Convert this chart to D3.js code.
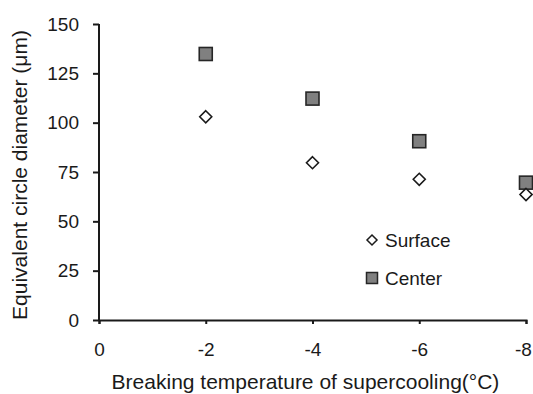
<!DOCTYPE html>
<html lang="en">
<head>
<meta charset="UTF-8">
<title>Equivalent circle diameter</title>
<script src="https://d3js.org/d3.v7.min.js"></script>
<style>
  body { margin: 0; background: #fff; }
  text { font-family: "Liberation Sans", Arial, sans-serif; fill: #1a1a1a; }
</style>
</head>
<body>
<div id="chart"></div>
<script>
// data
var temps = [-2, -4, -6, -8];
var surface = [103, 79.7, 71.3, 63.6];
var center = [134.8, 112.2, 90.6, 69.6];
var xTicks = [0, -2, -4, -6, -8];
var yTicks = [0, 25, 50, 75, 100, 125, 150];

var W = 533, H = 394;
var margin = {top: 24, right: 7, bottom: 74, left: 99};

var svg = d3.select("#chart").append("svg")
  .attr("width", W).attr("height", H);

var x = d3.scaleLinear().domain([0, -8]).range([margin.left, W - margin.right]);
var y = d3.scaleLinear().domain([0, 150]).range([H - margin.bottom, margin.top]);

// y axis
var yAxis = svg.append("g")
  .attr("transform", "translate(" + margin.left + ",0)")
  .call(d3.axisLeft(y).tickValues(yTicks).tickSize(6).tickPadding(14));
// x axis
var xAxis = svg.append("g")
  .attr("transform", "translate(0," + (H - margin.bottom) + ")")
  .call(d3.axisBottom(x).tickValues(xTicks).tickSize(4).tickPadding(19)
    .tickFormat(function(d) { return d === 0 ? "0" : "-" + Math.abs(d); }));

[yAxis, xAxis].forEach(function(g) {
  g.select(".domain").attr("stroke", "#1a1a1a").attr("stroke-width", 2);
  g.selectAll(".tick line").attr("stroke", "#1a1a1a").attr("stroke-width", 2);
  g.selectAll(".tick text").style("font-size", "19px").attr("fill", "#1a1a1a");
});
yAxis.select(".domain").attr("d", "M0," + (y(0) + 1) + "V" + y(150));
// keep the last x label inside the picture
xAxis.selectAll(".tick text").filter(function(d) { return d === -8; }).attr("dx", "-3");

// markers
var diamond = function(cx, cy, r) {
  return "M" + cx + "," + (cy - r) + "L" + (cx + r) + "," + cy +
    "L" + cx + "," + (cy + r) + "L" + (cx - r) + "," + cy + "Z";
};

svg.append("g").selectAll("rect")
  .data(temps)
  .join("rect")
  .attr("x", function(d, i) { return x(d) - 6.5; })
  .attr("y", function(d, i) { return y(center[i]) - 6.5; })
  .attr("width", 13).attr("height", 13)
  .attr("fill", "#808080").attr("stroke", "#262626").attr("stroke-width", 1.6);

svg.append("g").selectAll("path")
  .data(temps)
  .join("path")
  .attr("d", function(d, i) { return diamond(x(d), y(surface[i]), 6); })
  .attr("fill", "#fff").attr("stroke", "#1a1a1a").attr("stroke-width", 1.6);

// legend
var lg = svg.append("g");
lg.append("path").attr("d", diamond(372, 240, 5))
  .attr("fill", "#fff").attr("stroke", "#1a1a1a").attr("stroke-width", 1.5);
lg.append("text").attr("x", 385).attr("y", 246.5).style("font-size", "19px").text("Surface");
lg.append("rect").attr("x", 366.5).attr("y", 272.5).attr("width", 11).attr("height", 11)
  .attr("fill", "#808080").attr("stroke", "#262626").attr("stroke-width", 1.5);
lg.append("text").attr("x", 385).attr("y", 284.5).style("font-size", "19px").text("Center");

// axis titles
svg.append("text")
  .attr("x", 305.5).attr("y", 389)
  .attr("text-anchor", "middle").style("font-size", "21px")
  .text("Breaking temperature of supercooling(°C)");
svg.append("text")
  .attr("transform", "translate(27," + ((y(0) + y(150)) / 2 + 3) + ") rotate(-90)")
  .attr("text-anchor", "middle").style("font-size", "21px")
  .text("Equivalent circle diameter (μm)");
</script>
</body>
</html>
